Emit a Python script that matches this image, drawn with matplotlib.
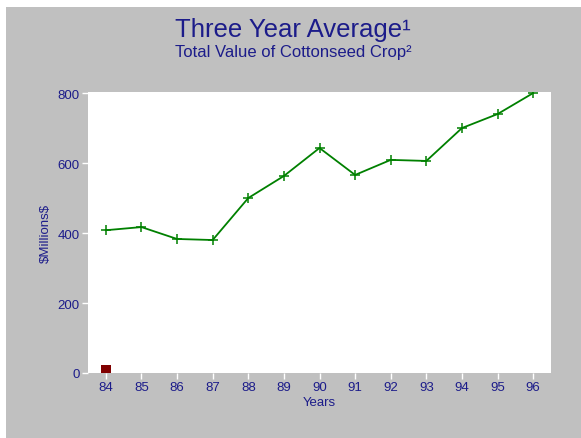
import matplotlib
matplotlib.use('Agg')
import matplotlib.pyplot as plt
from matplotlib.patches import Rectangle

# Data
years = [84, 85, 86, 87, 88, 89, 90, 91, 92, 93, 94, 95, 96]
values = [408, 417, 383, 380, 500, 563, 643, 566, 609, 606, 700, 740, 800]
square_years = [84]
square_values = [22]
y_ticks = [0, 200, 400, 600, 800]

NAVY = '#1c1c8a'
GREY = '#c0c0c0'

plt.rcParams['font.family'] = ['Liberation Sans', 'DejaVu Sans']

fig = plt.figure(figsize=(5.81, 4.39), dpi=100)
fig.patch.set_facecolor('white')
# grey panel, leaving a thin white strip at top and left
fig.patches.append(Rectangle((6 / 581, 0), 1, (439 - 8) / 439, transform=fig.transFigure,
                             facecolor=GREY, edgecolor='none', zorder=-1))

ax = fig.add_axes([88 / 581, 1 - 374 / 439, 463 / 581, 281 / 439])
ax.set_facecolor('white')

ax.plot(years, values, color='#008000', linewidth=1.3, marker='+', markersize=6.5,
        markeredgewidth=1.1, zorder=3)
ax.bar(square_years, square_values, width=0.28, color='#800000', zorder=2)

ax.set_xlim(83.5, 96.5)
ax.set_ylim(0, 803)
ax.set_xticks(years)
ax.set_xticklabels([str(y) for y in years])
ax.set_yticks(y_ticks)

for s in ax.spines.values():
    s.set_visible(False)
ax.tick_params(axis='both', colors='white', labelcolor=NAVY, labelsize=9.5,
               length=4, width=1, direction='out', pad=2)

ax.set_xlabel('Years', color=NAVY, fontsize=9.5, labelpad=2)
ax.set_ylabel('\\$Millions\\$', color=NAVY, fontsize=9.5, labelpad=4)

fig.text(293 / 581, 1 - 30 / 439, 'Three Year Average¹', color=NAVY, fontsize=18.5,
         ha='center', va='center')
fig.text(293 / 581, 1 - 53 / 439, 'Total Value of Cottonseed Crop²', color=NAVY, fontsize=12,
         ha='center', va='center')

fig.savefig('out.png', dpi=100, facecolor=fig.get_facecolor())
